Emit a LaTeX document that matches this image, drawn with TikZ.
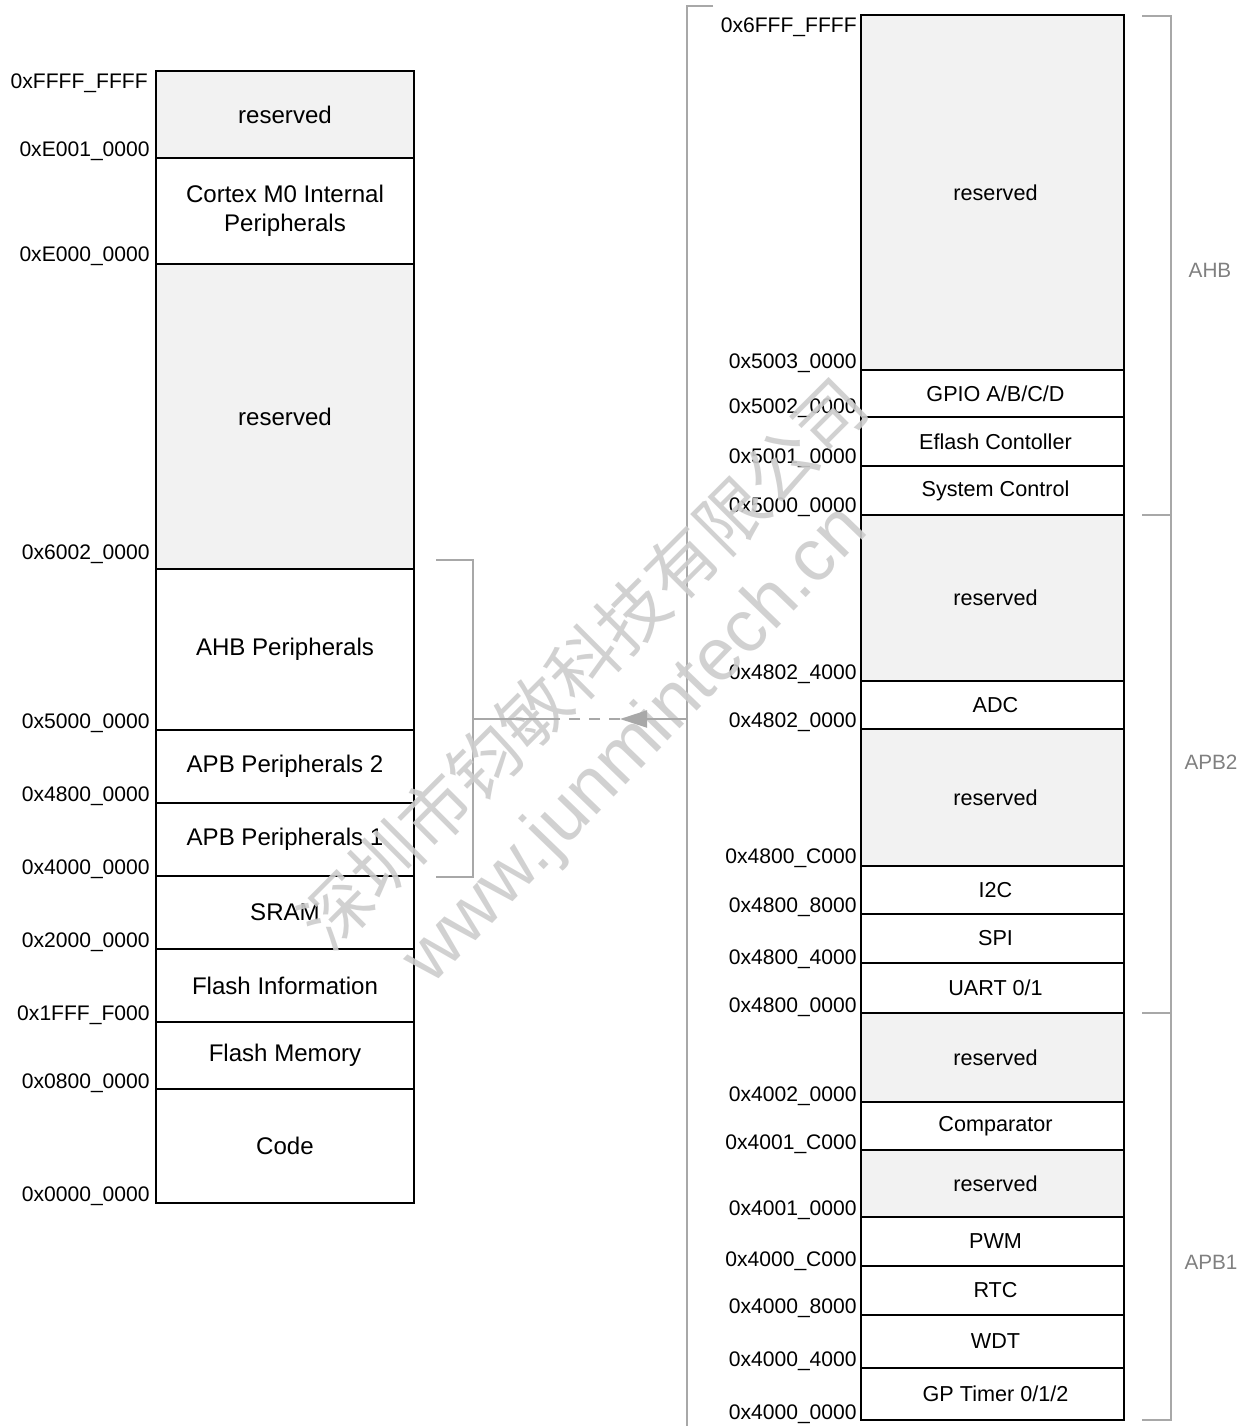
\documentclass[tikz,border=0pt]{standalone}
\usepackage{fontspec}
\setmainfont{Liberation Sans}
\newfontfamily\cjkfont{Noto Sans CJK SC}
\usetikzlibrary{arrows.meta}
\definecolor{resfill}{RGB}{242,242,242}
\definecolor{brgray}{RGB}{168,168,168}
\definecolor{busgray}{RGB}{128,128,128}
\definecolor{wmgray}{RGB}{205,205,205}
\tikzset{
  cell/.style={draw=black, line width=0.8pt, inner sep=0pt, align=center},
  lfont/.style={font=\fontsize{13.7pt}{16.8pt}\selectfont},
  rfont/.style={font=\fontsize{12.3pt}{14.6pt}\selectfont},
  addr/.style={inner sep=0pt, anchor=base east, font=\fontsize{12pt}{14.4pt}\selectfont},
  brline/.style={draw=brgray, line width=1.1pt},
  buslabel/.style={inner sep=0pt, text=busgray, font=\fontsize{11.8pt}{14pt}\selectfont},
  wm/.style={inner sep=0pt, text=wmgray, opacity=0.9}
}
\newcommand{\lcell}[5]{\node[cell,lfont,fill=#4,minimum width={258*0.02cm},minimum height={(#3-#2)*0.02cm}] (#1) at (285,{(#2+#3)/2}) {#5};}
\newcommand{\rcell}[5]{\node[cell,rfont,fill=#4,minimum width={263*0.02cm},minimum height={(#3-#2)*0.02cm}] (#1) at (992.5,{(#2+#3)/2}) {\hspace*{0.12cm}#5};}
\newcommand{\addrlab}[4]{\node[addr] (#1) at (#2,{#3+7.5}) {#4};}
\begin{document}
\begin{tikzpicture}[x=0.02cm,y=-0.02cm]
\useasboundingbox[fill=white] (0,0) rectangle (1250,1426);

% left column
\lcell{L1}{71}{158}{resfill}{reserved}
\lcell{L2}{158}{264}{white}{Cortex M0 Internal\\Peripherals}
\lcell{L3}{264}{569}{resfill}{reserved}
\lcell{L4}{569}{730}{white}{AHB Peripherals}
\lcell{L5}{730}{803}{white}{APB Peripherals 2}
\lcell{L6}{803}{876}{white}{APB Peripherals 1}
\lcell{L7}{876}{949}{white}{SRAM}
\lcell{L8}{949}{1022}{white}{Flash Information}
\lcell{L9}{1022}{1089}{white}{Flash Memory}
\lcell{L10}{1089}{1203}{white}{Code}

\addrlab{la1}{148}{81}{0xFFFF\_FFFF}
\addrlab{la2}{150}{149}{0xE001\_0000}
\addrlab{la3}{150}{254}{0xE000\_0000}
\addrlab{la4}{150}{552}{0x6002\_0000}
\addrlab{la5}{150}{721}{0x5000\_0000}
\addrlab{la6}{150}{794}{0x4800\_0000}
\addrlab{la7}{150}{867}{0x4000\_0000}
\addrlab{la8}{150}{940}{0x2000\_0000}
\addrlab{la9}{150}{1013}{0x1FFF\_F000}
\addrlab{la10}{150}{1081}{0x0800\_0000}
\addrlab{la11}{150}{1194}{0x0000\_0000}

% right column
\rcell{R1}{15}{370}{resfill}{reserved}
\rcell{R2}{370}{417}{white}{GPIO A/B/C/D}
\rcell{R3}{417}{466}{white}{Eflash Contoller}
\rcell{R4}{466}{515}{white}{System Control}
\rcell{R5}{515}{681}{resfill}{reserved}
\rcell{R6}{681}{729}{white}{ADC}
\rcell{R7}{729}{866}{resfill}{reserved}
\rcell{R8}{866}{914}{white}{I2C}
\rcell{R9}{914}{963}{white}{SPI}
\rcell{R10}{963}{1013}{white}{UART 0/1}
\rcell{R11}{1013}{1102}{resfill}{reserved}
\rcell{R12}{1102}{1150}{white}{Comparator}
\rcell{R13}{1150}{1217}{resfill}{reserved}
\rcell{R14}{1217}{1266}{white}{PWM}
\rcell{R15}{1266}{1315}{white}{RTC}
\rcell{R16}{1315}{1368}{white}{WDT}
\rcell{R17}{1368}{1420}{white}{GP Timer 0/1/2}

\addrlab{ra1}{857}{25}{0x6FFF\_FFFF}
\addrlab{ra2}{857}{361}{0x5003\_0000}
\addrlab{ra3}{857}{406}{0x5002\_0000}
\addrlab{ra4}{857}{456}{0x5001\_0000}
\addrlab{ra5}{857}{505}{0x5000\_0000}
\addrlab{ra6}{857}{672}{0x4802\_4000}
\addrlab{ra7}{857}{720}{0x4802\_0000}
\addrlab{ra8}{857}{856}{0x4800\_C000}
\addrlab{ra9}{857}{905}{0x4800\_8000}
\addrlab{ra10}{857}{957}{0x4800\_4000}
\addrlab{ra11}{857}{1005}{0x4800\_0000}
\addrlab{ra12}{857}{1094}{0x4002\_0000}
\addrlab{ra13}{857}{1142}{0x4001\_C000}
\addrlab{ra14}{857}{1208}{0x4001\_0000}
\addrlab{ra15}{857}{1259}{0x4000\_C000}
\addrlab{ra16}{857}{1306}{0x4000\_8000}
\addrlab{ra17}{857}{1359}{0x4000\_4000}
\addrlab{ra18}{857}{1412}{0x4000\_0000}

% left bracket (AHB + APB peripherals)
\coordinate (lbt) at (436,560);
\coordinate (lbb) at (436,877);
\coordinate (brmid) at (473,719);
\draw[brline] (lbt) -- (473,560) -- (473,877) -- (lbb);

% big bracket around right column
\coordinate (bbt) at (713,6);
\coordinate (bbb) at (687,1430);
\coordinate (bigmid) at (687,719);
\draw[brline] (bbt) -- (687,6) -- (bbb);

% bus brackets
\coordinate (bt1) at (1142,16);
\coordinate (bt2) at (1142,515);
\coordinate (bt3) at (1142,1013);
\coordinate (bt4) at (1142,1420);
\draw[brline] (bt1) -- (1171,16) -- (1171,1420) -- (bt4);
\draw[brline] (bt2) -- (1171,515);
\draw[brline] (bt3) -- (1171,1013);
\node[buslabel] (ahb) at (1210,270) {AHB};
\node[buslabel] (apb2) at (1211,762) {APB2};
\node[buslabel] (apb1) at (1211,1262) {APB1};

% watermark
\node[wm,rotate=45,font=\fontsize{39.7pt}{40pt}\cjkfont] (wm1) at (583,663) {深圳市钧敏科技有限公司};
\node[wm,rotate=46,font=\fontsize{42pt}{44pt}\selectfont] (wm2) at (637,746) {www.junmintech.cn};

% connector (drawn over the watermark)
\coordinate (tip) at (620,719);
\coordinate (dashend) at (552,719);
\draw[brline,-{Triangle[length=0.54cm,width=0.34cm]}] (bigmid) -- (tip);
\draw[brline,dash pattern=on 0.22cm off 0.18cm] (tip) -- (dashend);
\draw[brline] (dashend) -- (brmid);
\end{tikzpicture}
\end{document}
